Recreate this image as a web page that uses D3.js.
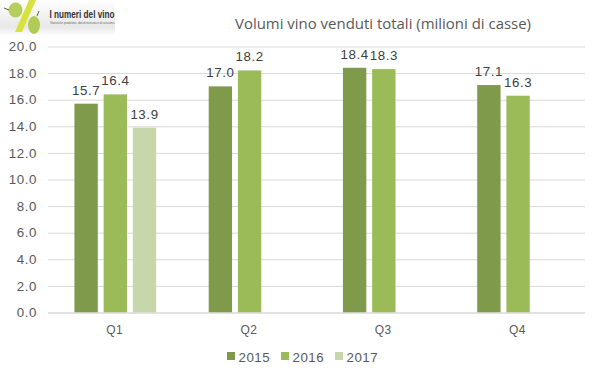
<!DOCTYPE html>
<html><head><meta charset="utf-8">
<script src="https://cdn.jsdelivr.net/npm/d3@7/dist/d3.min.js"></script>
<style>html,body{margin:0;padding:0;background:#fff}svg{display:block}</style>
</head><body><div id="chart"></div>
<script>
const quarters = ["Q1","Q2","Q3","Q4"];
const years = ["2015","2016","2017"];
const values2015 = [15.7,17.0,18.4,17.1];
const values2016 = [16.4,18.2,18.3,16.3];
const values2017 = [13.9,null,null,null];
const yTicks = [0,2,4,6,8,10,12,14,16,18,20];
const colors = ["#7F9A4B","#9BBB59","#C7D6AB"];
const title = "Volumi vino venduti totali (milioni di casse)";
const series = [values2015,values2016,values2017];
const font = "'Liberation Sans', Arial, sans-serif";

const svg = d3.select("#chart").append("svg").attr("width",599).attr("height",378);
const x = d3.scaleBand().domain(quarters).range([48,585]);
const xs = d3.scaleBand().domain(years).range([x.bandwidth()*0.2-0.4,x.bandwidth()*0.8+0.8]).paddingInner(0.2);
const y = d3.scaleLinear().domain([0,20]).range([312.5,46.5]);

// logo
const defs = svg.append("defs");
const g = defs.append("linearGradient").attr("id","lg").attr("x1",0).attr("y1",0).attr("x2",0).attr("y2",1);
g.append("stop").attr("offset",0).attr("stop-color","#ffffff");
g.append("stop").attr("offset",0.75).attr("stop-color","#e8e8e8");
g.append("stop").attr("offset",1).attr("stop-color","#ffffff");
const logo = svg.append("g");
logo.append("rect").attr("x",0).attr("y",0).attr("width",115).attr("height",36).attr("fill","url(#lg)");
logo.append("path").attr("d","M29 0L36 0L22 32L15 32Z").attr("fill","#d8e23c");
logo.append("ellipse").attr("cx",15.5).attr("cy",10).attr("rx",7).attr("ry",7.5).attr("fill","#b5cf5c");
logo.append("ellipse").attr("cx",34).attr("cy",25).attr("rx",6).attr("ry",9).attr("fill","#b0cc55");
logo.append("path").attr("d","M4 8L9 10M37 16L39 11").attr("stroke","#6b5a35").attr("stroke-width",1).attr("fill","none");
logo.append("text").attr("x",49.5).attr("y",17.5).attr("font-family","'Liberation Sans Narrow','Liberation Sans',sans-serif").attr("font-weight","bold").attr("font-size",10).attr("fill","#333").attr("textLength",65).attr("lengthAdjust","spacingAndGlyphs").text("I numeri del vino");
logo.append("text").attr("x",50).attr("y",24).attr("font-family",font).attr("font-size",3).attr("fill","#666").attr("textLength",65).attr("lengthAdjust","spacingAndGlyphs").text("Statistiche produttive, dati di mercato e di consumo.");

// grid
const grid = d3.axisLeft(y).tickValues(yTicks).tickSize(-537).tickPadding(11).tickFormat(d3.format(".1f"));
const gy = svg.append("g").attr("transform","translate(48,0)").call(grid);
gy.select(".domain").remove();
gy.selectAll("line").attr("stroke","#d9d9d9").attr("stroke-width",1);
gy.selectAll("text").attr("font-family",font).attr("font-size",13.3).attr("letter-spacing",0.6).attr("fill","#595959");

// bars
series.forEach((vals,i)=>{
  const yr = years[i];
  const valid = quarters.map((q,j)=>({q,v:vals[j]})).filter(d=>d.v!==null);
  svg.append("g").selectAll("rect").data(valid).join("rect")
    .attr("x",d=>x(d.q)+xs(yr)).attr("width",xs.bandwidth())
    .attr("y",d=>y(d.v)).attr("height",d=>y(0)-y(d.v)).attr("fill",colors[i]);
  svg.append("g").selectAll("text").data(valid).join("text")
    .attr("x",d=>x(d.q)+xs(yr)+xs.bandwidth()/2).attr("y",d=>y(d.v)-9)
    .attr("text-anchor","middle").attr("font-family",font).attr("font-size",13.3).attr("letter-spacing",0.6).attr("fill","#404040")
    .text(d=>d.v.toFixed(1));
});

// x axis
const ax = d3.axisBottom(x).tickSize(0).tickPadding(13);
const gx = svg.append("g").attr("transform","translate(-0.5,312.5)").call(ax);
gx.select(".domain").attr("stroke","#d9d9d9");
gx.selectAll("text").attr("font-family",font).attr("font-size",12).attr("letter-spacing",0.4).attr("fill","#595959");

// title
svg.append("text").attr("x",383).attr("y",29).attr("text-anchor","middle").attr("font-family","'Open Sans',sans-serif").attr("font-size",15).attr("fill","#595959").attr("textLength",296).attr("lengthAdjust","spacingAndGlyphs").text(title);

// legend
const legendX = d3.scaleOrdinal().domain(years).range([227,281,335]);
const lg = svg.append("g").selectAll("g").data(years).join("g").attr("transform",d=>`translate(${legendX(d)},352)`);
lg.append("rect").attr("width",8).attr("height",8).attr("fill",(d,i)=>colors[i]);
lg.append("text").attr("x",11.5).attr("y",9.5).attr("font-family",font).attr("font-size",13.3).attr("letter-spacing",0.5).attr("fill","#595959").text(d=>d);
</script></body></html>
